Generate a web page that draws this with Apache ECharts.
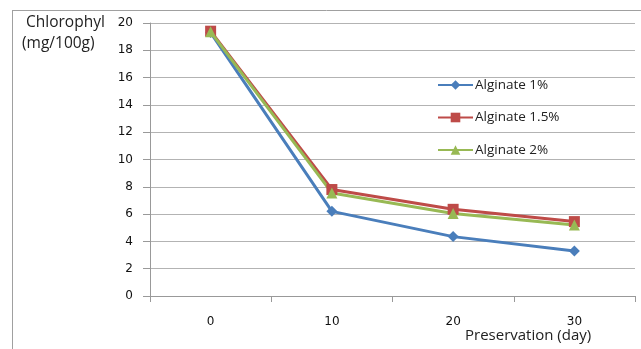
<!DOCTYPE html>
<html>
<head>
<meta charset="utf-8">
<script src="https://cdn.jsdelivr.net/npm/echarts@6/dist/echarts.min.js"></script>
<style>
  html, body { margin: 0; padding: 0; background: #fff; }
  #chart { width: 641px; height: 349px; }
</style>
</head>
<body>
<div id="chart"></div>
<script>
// Preservation days (categories)
const days = ['0', '10', '20', '30'];
// Chlorophyll content (mg/100g) per alginate coating
const alginate1 = [19.3, 6.2, 4.35, 3.3];
const alginate15 = [19.4, 7.8, 6.35, 5.45];
const alginate2 = [19.35, 7.55, 6.05, 5.2];
const yTicks = [0, 2, 4, 6, 8, 10, 12, 14, 16, 18, 20];

const chart = echarts.init(document.getElementById('chart'), null, { renderer: 'canvas' });

const labelFont = 'DejaVu Sans';
const textFont = 'Open Sans';
const gridColor = '#b3b3b3';

function lineSeries(name, data, color, symbol, size) {
  return {
    name: name,
    type: 'line',
    data: data,
    symbol: symbol,
    symbolSize: size,
    lineStyle: { color: color, width: 3 },
    itemStyle: { color: color },
    emphasis: { disabled: true },
    animation: false
  };
}

chart.setOption({
  backgroundColor: '#ffffff',
  animation: false,
  grid: { left: 150, right: 6, top: 23, bottom: 53, containLabel: false },
  legend: {
    orient: 'vertical',
    left: 432,
    top: 73,
    itemWidth: 35,
    itemHeight: 12,
    itemGap: 18.5,
    textStyle: { fontFamily: textFont, fontSize: 13.5, color: '#222', padding: [0, 0, 0, -3] },
    data: ['Alginate 1%', 'Alginate 1.5%', 'Alginate 2%']
  },
  xAxis: {
    type: 'category',
    data: days,
    boundaryGap: true,
    axisLine: { show: true, lineStyle: { color: '#999', width: 1 } },
    axisTick: { show: true, alignWithLabel: false, length: 6, lineStyle: { color: '#999' } },
    axisLabel: { margin: 20, fontFamily: labelFont, fontSize: 12, color: '#111' },
    splitLine: { show: false }
  },
  yAxis: {
    type: 'value',
    min: yTicks[0],
    max: yTicks[yTicks.length - 1],
    interval: 2,
    axisLine: { show: true, lineStyle: { color: '#999', width: 1 } },
    axisTick: { show: true, length: 7, lineStyle: { color: '#999' } },
    axisLabel: { margin: 17, fontFamily: labelFont, fontSize: 12, color: '#111' },
    splitLine: { show: true, lineStyle: { color: gridColor, width: 1 } }
  },
  graphic: [
    // outer chart frame (top and left edges)
    { type: 'line', shape: { x1: 12, y1: 10.5, x2: 641, y2: 10.5 }, style: { stroke: '#a0a0a0', lineWidth: 1 } },
    { type: 'line', shape: { x1: 12.5, y1: 10, x2: 12.5, y2: 349 }, style: { stroke: '#a0a0a0', lineWidth: 1 } },
    { type: 'text', left: 26, top: 15, style: { text: 'Chlorophyl', fontFamily: textFont, fontSize: 15.5, fill: '#222' } },
    { type: 'text', left: 22, top: 36, style: { text: '(mg/100g)', fontFamily: textFont, fontSize: 15.5, fill: '#222' } },
    { type: 'text', left: 465, top: 328, style: { text: 'Preservation (day)', fontFamily: textFont, fontSize: 15, fill: '#222' } }
  ],
  series: [
    lineSeries('Alginate 1%', alginate1, '#4a7ebb', 'diamond', 11),
    lineSeries('Alginate 1.5%', alginate15, '#be4b48', 'rect', 11),
    lineSeries('Alginate 2%', alginate2, '#98b954', 'triangle', 11)
  ]
});
</script>
</body>
</html>
